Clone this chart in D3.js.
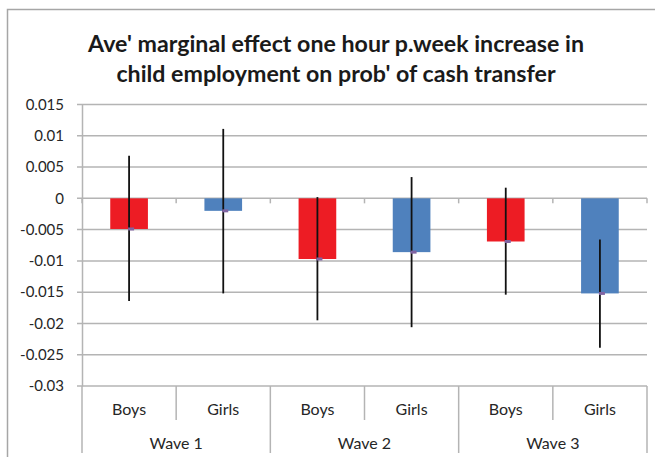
<!DOCTYPE html>
<html>
<head>
<meta charset="utf-8">
<script src="https://cdn.jsdelivr.net/npm/d3@7"></script>
<style>
  body { margin: 0; background: #fff; }
  text { font-family: Lato, "Open Sans", sans-serif; }
</style>
</head>
<body>
<svg width="655" height="457"></svg>
<script>
const waves = ["Wave 1", "Wave 2", "Wave 3"];
const groups = ["Boys", "Girls"];
const effect = [-0.0049, -0.0020, -0.0097, -0.0086, -0.0069, -0.0152];
const errLow = [-0.0164, -0.0152, -0.0195, -0.0206, -0.0154, -0.0239];
const errHigh = [0.0068, 0.0111, 0.0002, 0.0034, 0.0017, -0.0066];
const yTicks = [0.015, 0.01, 0.005, 0, -0.005, -0.01, -0.015, -0.02, -0.025, -0.03];
const titleLines = ["Ave' marginal effect one hour p.week increase in",
                    "child employment on prob' of cash transfer"];

const svg = d3.select("svg");
const plotL = 82, plotR = 647, plotT = 104.5, plotB = 386;

// chart frame
svg.append("rect")
    .attr("x", 7.5).attr("y", 9.5)
    .attr("width", 660).attr("height", 470)
    .attr("fill", "none").attr("stroke", "#a6a6a6").attr("stroke-width", 1.5);

svg.selectAll(".title").data(titleLines).enter().append("text")
    .attr("class", "title")
    .attr("x", 336)
    .attr("y", (d, i) => 52 + i * 30)
    .attr("text-anchor", "middle")
    .style("font-size", "23.2px")
    .style("font-weight", "bold")
    .style("fill", "#1a1a1a")
    .text(d => d);

const cats = [];
waves.forEach(w => groups.forEach(g => cats.push(w + "|" + g)));

const x = d3.scaleBand().domain(cats).range([plotL, plotR]).paddingInner(0).paddingOuter(0);
const y = d3.scaleLinear().domain([-0.03, 0.015]).range([plotB, plotT]);

// gridlines
svg.append("g").selectAll("line").data(yTicks).enter().append("line")
    .attr("x1", plotL - 5).attr("x2", plotR)
    .attr("y1", d => y(d)).attr("y2", d => y(d))
    .attr("stroke", "#b4b4b4").attr("stroke-width", 1.5);

// y axis labels
const yAxis = d3.axisLeft(y).tickValues(yTicks).tickSize(0).tickPadding(18)
    .tickFormat(d => d === 0 ? "0" : String(+d.toFixed(3)));
const ya = svg.append("g").attr("transform", `translate(${plotL},0)`).call(yAxis);
ya.select(".domain").attr("stroke", "#b4b4b4").attr("stroke-width", 1.5);
ya.selectAll("text").style("font-size", "15px").style("fill", "#262626").attr("font-family", null);

// extend left axis down to the bottom of category labels
svg.append("line").attr("x1", plotL).attr("x2", plotL).attr("y1", plotB).attr("y2", 453)
    .attr("stroke", "#b4b4b4").attr("stroke-width", 1.5);

// bars
const data = cats.map((c, i) => ({ c, g: groups[i % 2], v: effect[i], lo: errLow[i], hi: errHigh[i] }));
const barW = x.bandwidth() * 0.4;
svg.append("g").selectAll("rect").data(data).enter().append("rect")
    .attr("x", d => x(d.c) + (x.bandwidth() - barW) / 2)
    .attr("width", barW)
    .attr("y", d => y(Math.max(0, d.v)))
    .attr("height", d => Math.abs(y(d.v) - y(0)))
    .attr("fill", d => d.g === "Boys" ? "#ed1c24" : "#4f81bd");

// tick marks on the zero axis
svg.append("g").selectAll("line").data(d3.range(cats.length + 1)).enter().append("line")
    .attr("x1", i => plotL + i * x.bandwidth()).attr("x2", i => plotL + i * x.bandwidth())
    .attr("y1", y(0)).attr("y2", y(0) + 5)
    .attr("stroke", "#b4b4b4").attr("stroke-width", 1.5);

// error bars
svg.append("g").selectAll("line").data(data).enter().append("line")
    .attr("x1", d => x(d.c) + x.bandwidth() / 2)
    .attr("x2", d => x(d.c) + x.bandwidth() / 2)
    .attr("y1", d => y(d.hi)).attr("y2", d => y(d.lo))
    .attr("stroke", "#111").attr("stroke-width", 1.8);

// mean markers
svg.append("g").selectAll("rect").data(data).enter().append("rect")
    .attr("x", d => x(d.c) + x.bandwidth() / 2 - 1)
    .attr("y", d => y(d.v) - 1.5)
    .attr("width", 6).attr("height", 3)
    .attr("fill", "#8064a2");

// category dividers and labels
svg.append("g").selectAll("line").data(d3.range(1, cats.length, 2)).enter().append("line")
    .attr("x1", i => plotL + i * x.bandwidth()).attr("x2", i => plotL + i * x.bandwidth())
    .attr("y1", plotB).attr("y2", 420)
    .attr("stroke", "#b4b4b4").attr("stroke-width", 1.5);
svg.append("g").selectAll("line").data(d3.range(2, cats.length + 1, 2)).enter().append("line")
    .attr("x1", i => plotL + i * x.bandwidth()).attr("x2", i => plotL + i * x.bandwidth())
    .attr("y1", plotB).attr("y2", 453)
    .attr("stroke", "#b4b4b4").attr("stroke-width", 1.5);

svg.append("g").selectAll("text").data(data).enter().append("text")
    .attr("x", d => x(d.c) + x.bandwidth() / 2)
    .attr("y", 415)
    .attr("text-anchor", "middle")
    .style("font-size", "16px").style("fill", "#262626")
    .text(d => d.g);

svg.append("g").selectAll("text").data(waves).enter().append("text")
    .attr("x", (d, i) => plotL + (2 * i + 1) * x.bandwidth())
    .attr("y", 449)
    .attr("text-anchor", "middle")
    .style("font-size", "16px").style("fill", "#262626")
    .text(d => d);
</script>
</body>
</html>
